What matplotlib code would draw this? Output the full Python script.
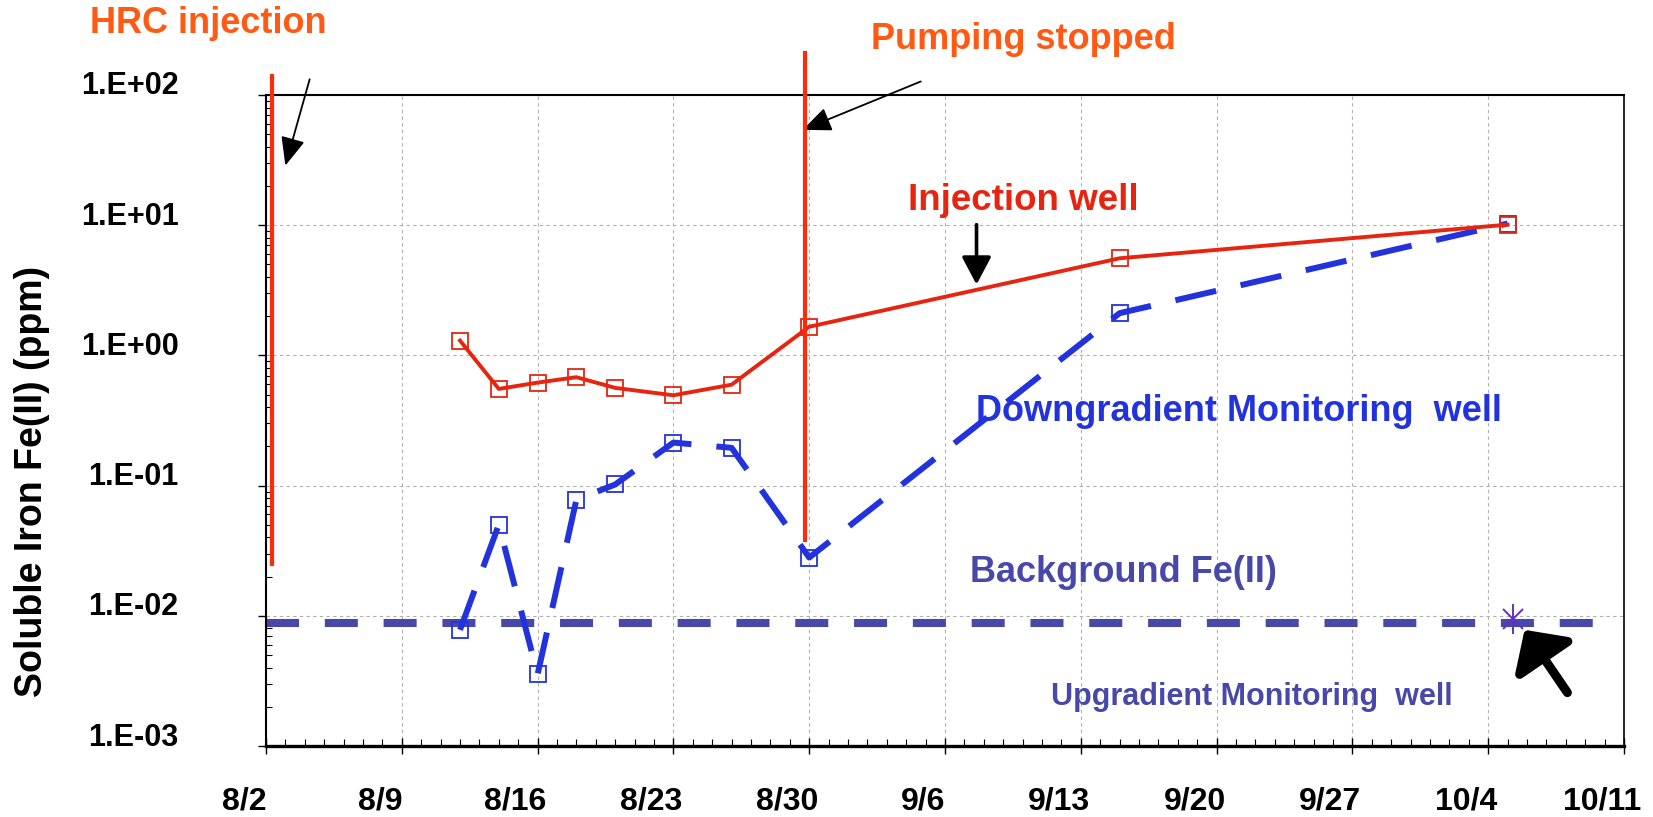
import numpy as np
import pandas as pd
import matplotlib

matplotlib.use("Agg")
import matplotlib.pyplot as plt
import matplotlib.dates as mdates
import matplotlib.transforms as mtransforms

# sampling dates and soluble Fe(II) (ppm)
sample_dates = ["8/12", "8/14", "8/16", "8/18", "8/20", "8/23", "8/26", "8/30", "9/15", "10/5"]
injection_well = [1.30, 0.553, 0.618, 0.68, 0.563, 0.494, 0.596, 1.66, 5.57, 10.1]
downgradient_well = [0.0078, 0.050, 0.00355, 0.078, 0.102, 0.214, 0.195, 0.028, 2.11, 10.3]

upgradient_date = "10/5 07:00"
upgradient_value = 0.0095

background_fe = 0.0088
background_span = ["8/2 00:00", "10/10 16:00"]

# event markers: date, low end, high end
hrc_injection = ["8/2 08:00", 0.025, 140]
pumping_stopped = ["8/29 19:00", 0.038, 210]

x_tick_labels = ["8/2", "8/9", "8/16", "8/23", "8/30", "9/6", "9/13", "9/20", "9/27", "10/4", "10/11"]
y_tick_values = [1e-3, 1e-2, 1e-1, 1e0, 1e1, 1e2]
y_tick_labels = ["1.E-03", "1.E-02", "1.E-01", "1.E+00", "1.E+01", "1.E+02"]

YEAR = "2002/"


def to_dt(s):
    return pd.to_datetime(YEAR + s)


def to_dts(lst):
    return pd.to_datetime([YEAR + s for s in lst])


plt.rcParams["font.family"] = ["Liberation Sans", "DejaVu Sans"]
plt.rcParams["font.weight"] = "bold"

RED = "#E62410"
VRED = "#FF2A0A"
ORANGE = "#FF5A14"
BLUE = "#2233DD"
SLATE = "#4848AA"
PURPLE = "#6030C8"

fig = plt.figure(figsize=(16.53, 8.17), dpi=100)
ax = fig.add_axes([266 / 1653, 1 - 746 / 817, (1624 - 266) / 1653, (746 - 95) / 817])

dates = to_dts(sample_dates)

# background level
ax.plot(to_dts(background_span), [background_fe, background_fe], color=SLATE, lw=5.8,
        linestyle=(0, (4.1, 3.2)), dash_capstyle="butt", zorder=2)

# downgradient monitoring well
ax.plot(dates, downgradient_well, color=BLUE, lw=4.3, linestyle=(0, (7, 4.2)),
        dash_capstyle="butt", zorder=3)
ax.plot(dates, downgradient_well, linestyle="none", marker="s", ms=11,
        mfc="none", mec=BLUE, mew=1.3, zorder=4)

# injection well
ax.plot(dates, injection_well, color=RED, lw=2.8, marker="s", ms=11,
        mfc="none", mec=RED, mew=1.3, zorder=5)

# upgradient well: asterisk made of an x and a vertical bar
up_t = [to_dt(upgradient_date)]
ax.plot(up_t, [upgradient_value], linestyle="none", marker="x", ms=15,
        mec=PURPLE, mew=1.4, zorder=6)
ax.plot(up_t, [upgradient_value], linestyle="none", marker="|", ms=21,
        mec=PURPLE, mew=1.4, zorder=6)

# event lines
for ev in (hrc_injection, pumping_stopped):
    t = to_dt(ev[0])
    ax.plot([t, t], [ev[1], ev[2]], color=VRED, lw=3, clip_on=False, zorder=7)

ax.set_yscale("log")
ax.set_ylim(1e-3, 1e2)
ax.set_xlim(to_dt("8/2"), to_dt("10/11"))

ax.set_xticks(mdates.date2num(to_dts(x_tick_labels)), labels=x_tick_labels)
ax.xaxis.set_minor_locator(mdates.DayLocator())
ax.set_yticks(y_tick_values, labels=y_tick_labels)
ax.yaxis.set_minor_locator(matplotlib.ticker.LogLocator(base=10, subs=np.arange(2, 10)))
ax.yaxis.set_minor_formatter(matplotlib.ticker.NullFormatter())

ax.tick_params(axis="x", which="major", direction="inout", length=11, width=1,
               labelsize=23, pad=24)
ax.tick_params(axis="x", which="minor", direction="in", length=5, width=0.8)
ax.tick_params(axis="y", which="major", direction="out", length=6, width=1,
               labelsize=22, pad=57)
ax.tick_params(axis="y", which="minor", direction="in", length=4.5, width=0.8)

for lab in ax.get_xticklabels():
    lab.set_transform(lab.get_transform() + mtransforms.ScaledTranslation(-0.22, 0, fig.dpi_scale_trans))
for lab in ax.get_yticklabels():
    lab.set_transform(lab.get_transform() + mtransforms.ScaledTranslation(0, 0.12, fig.dpi_scale_trans))

ax.grid(True, which="major", color="#B0B0B0", linestyle=(0, (3, 3)), linewidth=0.8)
ax.spines["bottom"].set_linewidth(2.4)
ax.spines["left"].set_linewidth(1.5)
ax.spines["top"].set_linewidth(1.5)
ax.spines["right"].set_linewidth(1.2)

ax.set_ylabel("Soluble Iron Fe(II) (ppm)", fontsize=27, fontweight="bold", va="center")
ax.yaxis.set_label_coords(-0.172, 0.407)

# labels
ax.text(to_dt("7/30 01:00"), 355, "HRC injection", color=ORANGE, fontsize=26,
        ha="center", va="center", clip_on=False)
ax.text(to_dt("9/10 01:00"), 268, "Pumping stopped", color=ORANGE, fontsize=26,
        ha="center", va="center", clip_on=False)
ax.text(to_dt("9/10 01:00"), 15.5, "Injection well", color=RED, fontsize=26.5,
        ha="center", va="center")
ax.text(to_dt("9/21 04:00"), 0.374, "Downgradient Monitoring  well", color=BLUE,
        fontsize=26, ha="center", va="center")
ax.text(to_dt("9/15 05:00"), 0.0216, "Background Fe(II)", color=SLATE, fontsize=26,
        ha="center", va="center")
ax.text(to_dt("9/21 19:00"), 0.00236, "Upgradient Monitoring  well", color=SLATE,
        fontsize=22, ha="center", va="center")

# arrows
ax.annotate("", xy=(to_dt("8/3 00:00"), 28.7), xytext=(to_dt("8/4 06:00"), 132),
            annotation_clip=False,
            arrowprops=dict(arrowstyle="-|>,head_length=0.7,head_width=0.3", color="black",
                            lw=1.3, shrinkA=0, shrinkB=0, mutation_scale=25))
ax.annotate("", xy=(to_dt("8/29 16:00"), 54), xytext=(to_dt("9/4 18:00"), 127),
            annotation_clip=False,
            arrowprops=dict(arrowstyle="-|>,head_length=0.7,head_width=0.3", color="black",
                            lw=1.3, shrinkA=0, shrinkB=0, mutation_scale=25))
ax.annotate("", xy=(to_dt("9/7 15:00"), 3.5), xytext=(to_dt("9/7 15:00"), 10.1),
            arrowprops=dict(arrowstyle="-|>,head_length=0.85,head_width=0.45", color="black",
                            lw=2.6, shrinkA=0, shrinkB=0, mutation_scale=20))
ax.annotate("", xy=(to_dt("10/5 21:00"), 0.0078), xytext=(to_dt("10/8 02:00"), 0.00257),
            annotation_clip=False,
            arrowprops=dict(arrowstyle="-|>,head_length=1.0,head_width=1.05", color="black",
                            lw=6.5, shrinkA=0, shrinkB=0, mutation_scale=20,
                            capstyle="round"))

fig.savefig("out.png", dpi=100)
